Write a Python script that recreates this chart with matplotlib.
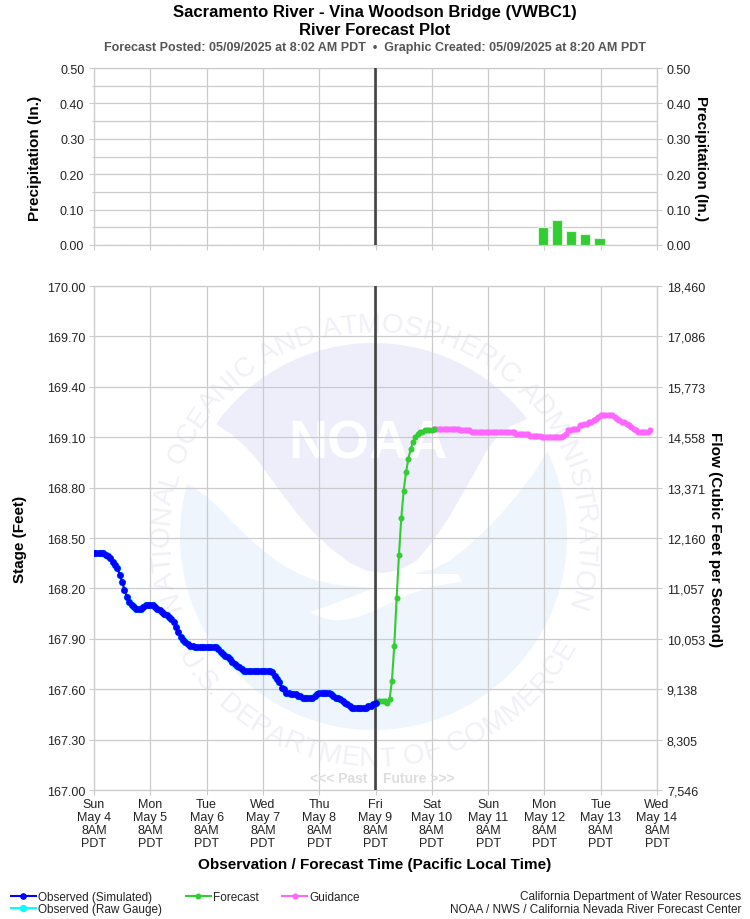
import numpy as np
import matplotlib
matplotlib.use('Agg')
import matplotlib.pyplot as plt
from matplotlib.font_manager import FontProperties
from matplotlib.patches import Circle, Polygon
from matplotlib.textpath import text_to_path
from matplotlib.ticker import MultipleLocator

plt.rcParams['font.family'] = ['Liberation Sans', 'DejaVu Sans']

# hours counted from Sun May 4 8AM, one value per hour
observed_stage = [
    168.41, 168.41, 168.41, 168.41, 168.41, 168.40, 168.39, 168.38, 168.36, 168.34,
    168.32, 168.28, 168.24, 168.19, 168.15, 168.12, 168.10, 168.09, 168.08, 168.08,
    168.08, 168.09, 168.10, 168.10, 168.10, 168.10, 168.09, 168.08, 168.07, 168.06,
    168.05, 168.04, 168.03, 168.02, 168.00, 167.97, 167.94, 167.91, 167.89, 167.88,
    167.87, 167.86, 167.86, 167.85, 167.85, 167.85, 167.85, 167.85, 167.85, 167.85,
    167.85, 167.85, 167.85, 167.84, 167.82, 167.81, 167.80, 167.79, 167.78, 167.76,
    167.75, 167.74, 167.73, 167.72, 167.71, 167.71, 167.71, 167.71, 167.71, 167.71,
    167.71, 167.71, 167.71, 167.71, 167.71, 167.71, 167.70, 167.68, 167.66, 167.64,
    167.61, 167.60, 167.58, 167.58, 167.57, 167.57, 167.57, 167.56, 167.56, 167.55,
    167.55, 167.55, 167.55, 167.55, 167.56, 167.57, 167.58, 167.58, 167.58, 167.58,
    167.58, 167.57, 167.56, 167.55, 167.55, 167.54, 167.53, 167.52, 167.51, 167.50,
    167.49, 167.49, 167.49, 167.49, 167.49, 167.49, 167.49, 167.50, 167.50, 167.51,
    167.52,
]
forecast_start = 120
forecast_stage = [
    167.52, 167.53, 167.53, 167.53, 167.53, 167.52, 167.54, 167.65, 167.86, 168.14,
    168.40, 168.62, 168.78, 168.89, 168.97, 169.03, 169.07, 169.10, 169.12, 169.13,
    169.13, 169.14, 169.14, 169.14, 169.14, 169.15,
]
guidance_start = 145
guidance_stage = [
    169.15, 169.15, 169.15, 169.15, 169.15, 169.15, 169.15, 169.15, 169.15, 169.15,
    169.15, 169.14, 169.14, 169.14, 169.14, 169.14, 169.13, 169.13, 169.13, 169.13,
    169.13, 169.13, 169.13, 169.13, 169.13, 169.13, 169.13, 169.13, 169.13, 169.13,
    169.13, 169.13, 169.13, 169.13, 169.13, 169.12, 169.12, 169.12, 169.12, 169.12,
    169.12, 169.11, 169.11, 169.11, 169.11, 169.11, 169.10, 169.10, 169.10, 169.10,
    169.10, 169.10, 169.10, 169.10, 169.10, 169.11, 169.12, 169.14, 169.14, 169.15,
    169.15, 169.15, 169.17, 169.17, 169.18, 169.18, 169.19, 169.19, 169.20, 169.21,
    169.22, 169.23, 169.23, 169.23, 169.23, 169.23, 169.23, 169.22, 169.21, 169.20,
    169.19, 169.19, 169.18, 169.17, 169.16, 169.15, 169.14, 169.13, 169.13, 169.13,
    169.13, 169.13, 169.14,
]

# 6 hour precipitation
precip_past_hours = [5.4, 11.4, 17.4, 23.4, 29.4, 35.4, 41.4, 47.4, 53.4, 59.4,
                     65.4, 71.4, 77.4, 83.4, 89.4, 95.4, 101.4, 107.4, 113.4, 119.4]
precip_past = [0.0] * 20
precip_future_hours = [125.4, 131.4, 137.4, 143.4, 149.4, 155.4, 161.4, 167.4, 173.4, 179.4,
                       185.4, 191.4, 197.4, 203.4, 209.4, 215.4, 221.4, 227.4, 233.4]
precip_future = [0, 0, 0, 0, 0, 0, 0, 0, 0, 0, 0, 0.05, 0.07, 0.04, 0.03, 0.02, 0, 0, 0]

day_hours = [0, 24, 48, 72, 96, 120, 144, 168, 192, 216, 240]
day_labels = ['Sun\nMay 4\n8AM\nPDT', 'Mon\nMay 5\n8AM\nPDT', 'Tue\nMay 6\n8AM\nPDT',
              'Wed\nMay 7\n8AM\nPDT', 'Thu\nMay 8\n8AM\nPDT', 'Fri\nMay 9\n8AM\nPDT',
              'Sat\nMay 10\n8AM\nPDT', 'Sun\nMay 11\n8AM\nPDT', 'Mon\nMay 12\n8AM\nPDT',
              'Tue\nMay 13\n8AM\nPDT', 'Wed\nMay 14\n8AM\nPDT']
precip_ticks = [0, 0.1, 0.2, 0.3, 0.4, 0.5]
stage_ticks = [167.0, 167.3, 167.6, 167.9, 168.2, 168.5, 168.8, 169.1, 169.4, 169.7, 170.0]
flow_labels = ['7,546', '8,305', '9,138', '10,053', '11,057', '12,160',
               '13,371', '14,558', '15,773', '17,086', '18,460']
now_hour = 119.75

W, H = 750, 920
GRID = '#cccccc'
fig = plt.figure(figsize=(7.5, 9.2), dpi=100)


def put(x, y, s, **kw):
    kw.setdefault('va', 'center')
    kw.setdefault('ha', 'center')
    return fig.text(x / W, 1 - y / H, s, **kw)


def axes_px(left, top, right, bottom):
    return fig.add_axes([left / W, 1 - bottom / H, (right - left) / W, (bottom - top) / H],
                        facecolor='none', zorder=2)


# NOAA watermark behind the plots, in pixel coordinates
bg = fig.add_axes([0, 0, 1, 1], zorder=0)
bg.set_xlim(0, W)
bg.set_ylim(H, 0)
bg.axis('off')
cx, cy, cr = 373.5, 537.5, 193.5
SEAL_BLUE = '#eef5fd'
SEAL_LAV = '#edeefa'
SEAL_TEXT = '#f0f0f7'


def zoomed(pts):
    return [(150 + a / 3, 300 + b / 3) for a, b in pts]


bg.add_patch(Circle((cx, cy), cr, fc=SEAL_BLUE, ec='none'))
swoosh = zoomed([(110, 553), (160, 585), (200, 620), (250, 672), (300, 720), (350, 763), (400, 800),
                 (450, 826), (500, 845), (550, 856), (600, 862), (670, 868), (600, 895), (540, 918),
                 (480, 940), (520, 958), (560, 965), (610, 958), (650, 945), (715, 915), (780, 885),
                 (850, 862), (935, 848), (925, 825), (790, 825), (850, 810), (900, 785), (950, 745),
                 (1000, 700), (1050, 648), (1100, 590), (1150, 525), (1190, 460), (1300, 300),
                 (675, 60), (50, 300)])
bg.add_patch(Polygon(swoosh, fc='white', ec='none'))
arc = np.radians(np.linspace(144.5, 37.4, 60))
bird = [(cx + cr * np.cos(a), cy - cr * np.sin(a)) for a in arc]
bird += zoomed([(1080, 382), (1040, 415), (1010, 455), (980, 510), (940, 580), (900, 650), (850, 725),
                (800, 785), (750, 812), (700, 822), (650, 815), (600, 792), (545, 750), (490, 700),
                (445, 648), (400, 590), (360, 535), (320, 480), (285, 442), (250, 410)])
bg.add_patch(Polygon(bird, fc=SEAL_LAV, ec='none'))
bg.text(368, 445, 'NOAA', color='white', fontsize=39, fontweight='bold', ha='center', va='center')


def ring_text(s, radius, a0, a1, upper):
    size = 20
    prop = FontProperties(family='Liberation Sans', size=size)
    widths = [text_to_path.get_text_width_height_descent(c, prop, False)[0] for c in s]
    edges = np.cumsum([0] + widths)
    mids = (edges[:-1] + edges[1:]) / 2 / edges[-1]
    for c, m in zip(s, mids):
        a = a0 + (a1 - a0) * m
        rot = a - 90 if upper else a + 90
        x = cx + radius * np.cos(np.radians(a))
        y = cy - radius * np.sin(np.radians(a))
        bg.text(x, y, c, color=SEAL_TEXT, fontsize=size, ha='center', va='baseline',
                rotation=rot, rotation_mode='anchor')


ring_text('NATIONAL OCEANIC AND ATMOSPHERIC ADMINISTRATION', 205, 200, -20, True)
ring_text('U.S. DEPARTMENT OF COMMERCE', 229, 211, 332, False)

# precipitation panel
ax_p = axes_px(94, 69, 657, 246)
ax_p.bar(precip_past_hours, precip_past, width=4.5, color='#ccd0f0', edgecolor='#ccd0f0', linewidth=0.8, zorder=3)
ax_p.bar(precip_future_hours, precip_future, width=4.5, color='#32cd32', edgecolor='#dff5df', linewidth=0.8, zorder=3)
ax_p.axvline(now_hour, color='#444444', lw=1.9, zorder=4)
ax_p.set_ylim(0, 0.5)
ax_p.yaxis.set_minor_locator(MultipleLocator(0.05))
ax_p.set_yticks(precip_ticks)
ax_p.set_yticklabels([f'{v:.2f}' for v in precip_ticks])

# stage panel
ax = axes_px(94, 287, 657, 791)
ax.plot(np.arange(len(observed_stage)), observed_stage, color='#00ffff', lw=1.5, marker='o', ms=4.3,
        label='Observed (Raw Gauge)', zorder=3)
ax.plot(np.arange(len(observed_stage)), observed_stage, color='#0000ff', lw=1.5, marker='o',
        ms=3.8, label='Observed (Simulated)', zorder=6)
ax.plot(forecast_start + np.arange(len(forecast_stage)), forecast_stage, color='#32cd32', lw=1.5,
        marker='o', ms=3.3, label='Forecast', zorder=5)
ax.plot(guidance_start + np.arange(len(guidance_stage)), guidance_stage, color='#ff66ff', lw=1.5,
        marker='o', ms=3.4, label='Guidance', zorder=4)
ax.axvline(now_hour, color='#444444', lw=1.9, zorder=5)
ax.set_ylim(167, 170)
ax.set_yticks(stage_ticks)
ax.set_yticklabels([f'{v:.2f}' for v in stage_ticks])

for a in (ax_p, ax):
    a.set_xlim(0, 240)
    a.set_xticks(day_hours)
    a.grid(True, which='major', color=GRID, lw=0.9, zorder=1)
    a.set_axisbelow(True)
    a.tick_params(axis='both', which='major', color=GRID, length=3.5, width=0.8, labelsize=9,
                  labelcolor='#222222', pad=3)
    for sp in a.spines.values():
        sp.set_color(GRID)
        sp.set_linewidth(0.9)

ax_p.grid(True, which='minor', axis='y', color=GRID, lw=0.9)
ax_p.tick_params(axis='y', which='minor', color=GRID, length=1.5, width=0.8)
ax_p.tick_params(axis='y', which='major', pad=3.5)
ax_p.set_xticklabels([])
ax.set_xticklabels(day_labels, linespacing=1.1)
ax.tick_params(axis='x', pad=2.5)

# right hand axes
ax_pr = ax_p.twinx()
ax_pr.set_ylim(0, 0.5)
ax_pr.set_yticks(precip_ticks)
ax_pr.set_yticklabels([f'{v:.2f}' for v in precip_ticks])
ax_r = ax.twinx()
ax_r.set_ylim(167, 170)
ax_r.set_yticks(stage_ticks)
ax_r.set_yticklabels(flow_labels)
for a, p in ((ax_pr, 3), (ax_r, 3.5)):
    a.tick_params(axis='y', color=GRID, length=3.6, width=0.8, labelsize=9, labelcolor='#222222', pad=p)
    a.patch.set_visible(False)
    for sp in a.spines.values():
        sp.set_visible(False)

# titles and labels
put(375, 13, 'Sacramento River - Vina Woodson Bridge (VWBC1)', fontsize=12, fontweight='bold', color='black')
put(375, 30.5, 'River Forecast Plot', fontsize=12, fontweight='bold', color='black')
put(375, 48, 'Forecast Posted: 05/09/2025 at 8:02 AM PDT  \u2022  Graphic Created: 05/09/2025 at 8:20 AM PDT',
    fontsize=9, fontweight='bold', color='#555555')
put(35.5, 158.5, 'Precipitation (In.)', fontsize=11, fontweight='bold', rotation=90)
put(700.5, 158.5, 'Precipitation (In.)', fontsize=11, fontweight='bold', rotation=270)
put(20.5, 539, 'Stage (Feet)', fontsize=11, fontweight='bold', rotation=90)
put(715.5, 539.5, 'Flow (Cubic Feet per Second)', fontsize=11, fontweight='bold', rotation=270)
put(375, 865, 'Observation / Forecast Time (Pacific Local Time)', fontsize=11, fontweight='bold')
put(367, 779, '<<< Past', fontsize=10, fontweight='bold', color='#dddddd', ha='right', zorder=3)
put(383, 779, 'Future >>>', fontsize=10, fontweight='bold', color='#dddddd', ha='left', zorder=3)
put(741, 897.5, 'California Department of Water Resources', fontsize=8.5, ha='right', color='#222222')
put(741, 910.5, 'NOAA / NWS / California Nevada River Forecast Center', fontsize=8.5, ha='right', color='#222222')

handles, labels = ax.get_legend_handles_labels()
order = [labels.index(n) for n in ['Observed (Simulated)', 'Observed (Raw Gauge)', 'Forecast', 'Guidance']]
fig.legend([handles[i] for i in order], [labels[i] for i in order], ncol=3, frameon=False, fontsize=8.5,
           loc='lower left', bbox_to_anchor=(11 / W, 1 - 916.5 / H), borderaxespad=0, borderpad=0,
           handlelength=2.1, handletextpad=0.2, columnspacing=2.0, labelspacing=0.05, labelcolor='#222222')

fig.savefig('out.png', dpi=100)
